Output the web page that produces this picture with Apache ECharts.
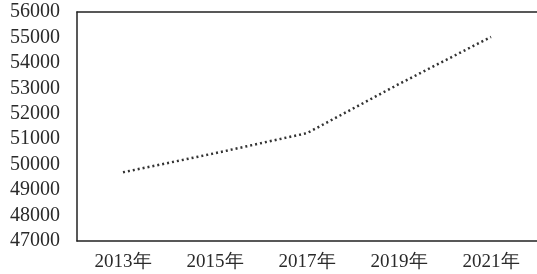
<!DOCTYPE html>
<html>
<head>
<meta charset="utf-8">
<script src="https://cdn.jsdelivr.net/npm/echarts@6/dist/echarts.min.js"></script>
<style>
  html, body { margin: 0; padding: 0; background: #fff; }
  #chart { width: 537px; height: 274px; }
</style>
</head>
<body>
<div id="chart"></div>
<script>
// 数据
const years = ['2013年', '2015年', '2017年', '2019年', '2021年'];
const values = [49700, 50450, 51240, 53170, 55020];
const yTicks = { min: 47000, max: 56000, interval: 1000 };

const chart = echarts.init(document.getElementById('chart'));

const axisLineStyle = { color: '#222', width: 1.5 };

const option = {
  animation: false,
  backgroundColor: '#fff',
  grid: { left: 77, right: 0, top: 12, bottom: 33, outerBoundsMode: 'none' },
  xAxis: [
    {
      type: 'category',
      data: years,
      boundaryGap: true,
      axisLine: { show: true, lineStyle: axisLineStyle },
      axisTick: { show: false },
      axisLabel: {
        color: '#2a2a2a',
        fontFamily: 'Liberation Serif',
        fontSize: 19,
        margin: 12
      },
      splitLine: { show: false }
    },
    { // 顶部边线
      type: 'category',
      data: years,
      position: 'top',
      axisLine: { show: true, lineStyle: axisLineStyle },
      axisTick: { show: false },
      axisLabel: { show: false },
      splitLine: { show: false }
    }
  ],
  yAxis: {
    type: 'value',
    min: yTicks.min,
    max: yTicks.max,
    interval: yTicks.interval,
    axisLine: { show: true, lineStyle: axisLineStyle },
    axisTick: { show: false },
    axisLabel: {
      color: '#2a2a2a',
      fontFamily: 'Liberation Serif',
      fontSize: 20,
      margin: 17,
      formatter: v => String(v)
    },
    splitLine: { show: false }
  },
  series: [
    {
      type: 'line',
      data: values,
      symbol: 'none',
      lineStyle: { color: '#333', width: 2.5, type: [2, 3] }
    }
  ]
};

chart.setOption(option);
</script>
</body>
</html>
